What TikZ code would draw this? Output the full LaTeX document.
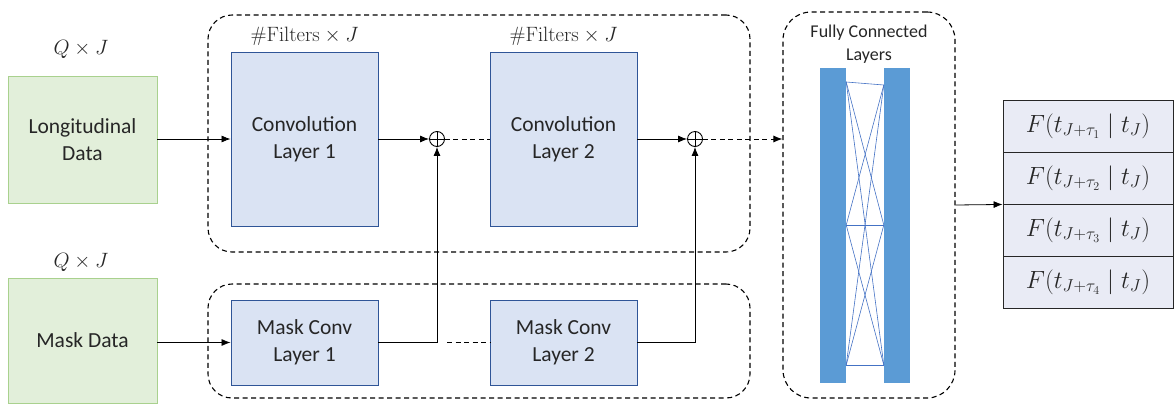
\documentclass[tikz,border=0pt]{standalone}
\usepackage{amsmath,amssymb}
\usepackage[no-math]{fontspec}
\setmainfont{Carlito}
\usepackage{tikz}
\usetikzlibrary{arrows.meta, positioning, calc}

\definecolor{datagreen}{HTML}{E2EFDA}
\definecolor{dataedge}{HTML}{A9D18E}
\definecolor{convfill}{HTML}{DAE3F3}
\definecolor{convedge}{HTML}{2F5597}
\definecolor{fcblue}{HTML}{5B9BD5}
\definecolor{fcline}{HTML}{4472C4}
\definecolor{outfill}{HTML}{E9EBF5}
\definecolor{inkgray}{HTML}{262626}

\begin{document}
\begin{tikzpicture}[
			x=1pt, y=-1pt,
			every node/.style={align=center, text=inkgray, font=\fontsize{21.5}{27}\selectfont},
			databox/.style={draw=dataedge, fill=datagreen, line width=0.9pt, minimum width=149pt},
			convbox/.style={draw=convedge, fill=convfill, line width=0.9pt, minimum width=147pt},
			group/.style={draw=black, dash pattern=on 5pt off 3.5pt, line width=1.1pt, rounded corners=24pt},
			sumnode/.style={draw=black, circle, inner sep=0pt, minimum size=15pt, line width=0.9pt,
				path picture={\draw[line width=0.9pt] (path picture bounding box.north) -- (path picture bounding box.south)
					(path picture bounding box.west) -- (path picture bounding box.east);}},
			outbox/.style={draw=inkgray, fill=outfill, line width=0.9pt, minimum width=170pt, minimum height=52pt, font=\fontsize{24.5}{26}\selectfont},
			dimlabel/.style={font=\fontsize{22}{24}\selectfont},
			arr/.style={-{Latex[length=9pt,width=7pt]}, line width=0.8pt},
			dashline/.style={dash pattern=on 5pt off 3.5pt, line width=1pt},
			fcbar/.style={fill=fcblue, draw=none, minimum width=26pt, minimum height=315pt, inner sep=0pt}
			]
			\useasboundingbox (0,0) rectangle (1174,405);

			% containers
			\node[group, minimum width=542pt, minimum height=237pt] (topgrp) at (479,133.5) {};
			\node[group, minimum width=542pt, minimum height=114pt] (botgrp) at (479,341) {};
			\node[group, minimum width=172pt, minimum height=386pt, rounded corners=28pt] (fc) at (869,205) {};

			% inputs
			\node[databox, minimum height=127pt] (long) at (82.5,139.5) {Longitudinal\\Data};
			\node[databox, minimum height=125pt] (mask) at (82.5,340.5) {Mask Data};
			\node[dimlabel] at (81,49) {$Q\times J$};
			\node[dimlabel] at (81,262) {$Q\times J$};

			% convolution path
			\node[convbox, minimum height=174pt] (conv1) at (304.5,139) {Convolution\\Layer 1};
			\node[convbox, minimum height=174pt] (conv2) at (563.5,139) {Convolution\\Layer 2};
			\node[dimlabel] at (304.5,36) {$\#\mathrm{Filters}\times J$};
			\node[dimlabel] at (563.5,36) {$\#\mathrm{Filters}\times J$};
			\node[sumnode] (sum1) at (437,139) {};
			\node[sumnode] (sum2) at (695,139) {};

			% mask path
			\node[convbox, minimum height=85pt] (mconv1) at (304.5,342.5) {Mask Conv\\Layer 1};
			\node[convbox, minimum height=85pt] (mconv2) at (563.5,342.5) {Mask Conv\\Layer 2};
			\coordinate (mturn1) at (sum1 |- mconv1.east);
			\coordinate (mturn2) at (sum2 |- mconv2.east);

			% fully connected
			\node[font=\fontsize{18}{23}\selectfont] at (869,44) {Fully Connected\\Layers};
			\node[fcbar] (barL) at (833,225.5) {};
			\node[fcbar] (barR) at (897,225.5) {};
			\foreach \ya in {82,225,365}
				\foreach \yb in {85,225,365}
					\draw[fcline, line width=0.6pt] (barL.east |- 0,\ya) -- (barR.west |- 0,\yb);

			% outputs
			\node[outbox] (out1) at (1088,126) {$F(t_{J+\tau_1}\mid t_J)$};
			\node[outbox] (out2) at (1088,178) {$F(t_{J+\tau_2}\mid t_J)$};
			\node[outbox] (out3) at (1088,230) {$F(t_{J+\tau_3}\mid t_J)$};
			\node[outbox] (out4) at (1088,282) {$F(t_{J+\tau_4}\mid t_J)$};

			% connectors
			\draw[arr] (long.east |- conv1.west) -- (conv1.west);
			\draw[arr] (conv1.east) -- (sum1.west);
			\draw[dashline] (sum1.east) -- (conv2.west);
			\draw[arr] (conv2.east) -- (sum2.west);
			\draw[arr, dashline] (sum2.east) -- (fc.west |- sum2.east);
			\draw[arr] (mask.east |- mconv1.west) -- (mconv1.west);
			\draw[arr] (mconv1.east) -- (mturn1) -- (sum1.south);
			\draw[dashline] ($(mturn1)+(10,0)$) -- (mconv2.west);
			\draw[arr] (mconv2.east) -- (mturn2) -- (sum2.south);
			\draw[arr] (fc.east) -- (out2.south west);
		\end{tikzpicture}
\end{document}
